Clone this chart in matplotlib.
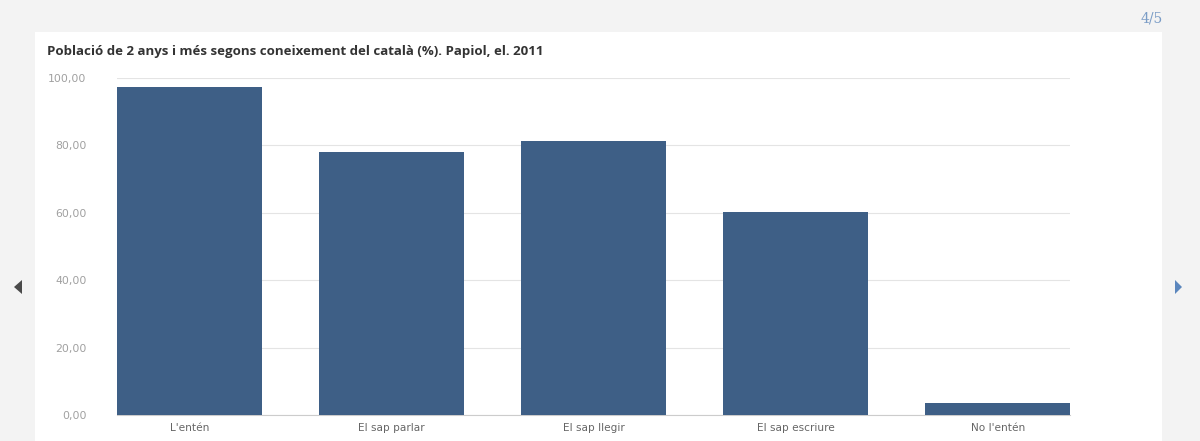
import matplotlib
matplotlib.use("Agg")
import matplotlib.pyplot as plt
from matplotlib.patches import Rectangle, Polygon

categories = ["L'entén", "El sap parlar", "El sap llegir", "El sap escriure", "No l'entén"]
values = [97.3, 78.0, 81.3, 60.2, 3.6]
yticks = [0, 20, 40, 60, 80, 100]
ytick_labels = ["0,00", "20,00", "40,00", "60,00", "80,00", "100,00"]
title = "Població de 2 anys i més segons coneixement del català (%). Papiol, el. 2011"

W, H = 1200, 441
fig = plt.figure(figsize=(W / 100, H / 100), dpi=100)
fig.patch.set_facecolor("#f3f3f3")

# white panel
fig.patches.append(Rectangle((35 / W, 0), (1162 - 35) / W, (H - 32) / H,
                             transform=fig.transFigure, facecolor="white",
                             edgecolor="none", zorder=-5))

ax = fig.add_axes([117 / W, 26 / H, (1070 - 117) / W, 337 / H])
ax.set_zorder(2)
ax.set_facecolor("white")
bw = 0.715
x = list(range(len(categories)))
ax.bar(x, values, width=bw, color="#3e5f86", zorder=3)
ax.set_xlim(-bw / 2, len(categories) - 1 + bw / 2)
ax.set_ylim(0, 100)
ax.set_yticks(yticks)
ax.set_yticklabels(ytick_labels, fontfamily="DejaVu Sans", fontsize=7.8, color="#a0a0a0")
ax.set_xticks(x)
ax.set_xticklabels(categories, fontfamily="DejaVu Sans", fontsize=7.6, color="#666666")
ax.tick_params(axis="y", length=0, pad=22)
ax.tick_params(axis="x", length=0, pad=6)
ax.grid(axis="y", color="#e4e4e4", linewidth=0.8, zorder=0)
ax.set_axisbelow(True)
for s in ["top", "right", "left"]:
    ax.spines[s].set_visible(False)
ax.spines["bottom"].set_color("#cccccc")
ax.spines["bottom"].set_linewidth(0.8)

fig.text(47 / W, 1 - 52 / H, title, fontfamily="Open Sans", fontweight="bold",
         fontsize=9.5, color="#333333", ha="left", va="center", zorder=5)
fig.text(1152 / W, 1 - 18 / H, "4/5", fontfamily="DejaVu Serif", fontsize=10,
         color="#7a9cc6", ha="center", va="center", zorder=5)

# navigation arrows
fig.patches.append(Polygon([(14 / W, 1 - 287 / H), (22 / W, 1 - 280 / H), (22 / W, 1 - 294 / H)],
                           closed=True, transform=fig.transFigure, facecolor="#4a4a4a",
                           edgecolor="none", zorder=5))
fig.patches.append(Polygon([(1182 / W, 1 - 287 / H), (1175 / W, 1 - 280 / H), (1175 / W, 1 - 294 / H)],
                           closed=True, transform=fig.transFigure, facecolor="#5b86bd",
                           edgecolor="none", zorder=5))

fig.savefig("out.png", dpi=100, facecolor=fig.get_facecolor())
